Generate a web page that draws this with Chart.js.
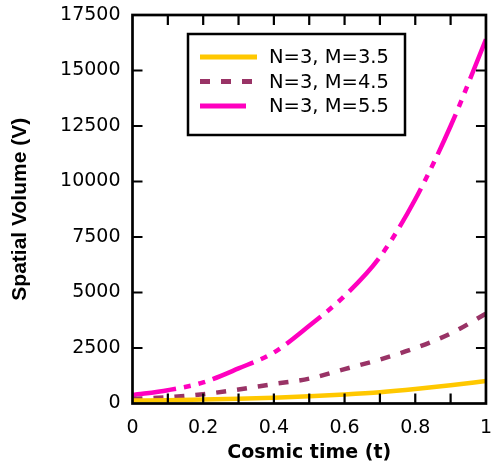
<!DOCTYPE html>
<html><head><meta charset="utf-8">
<script src="https://cdn.jsdelivr.net/npm/chart.js@4"></script>
<style>html,body{margin:0;padding:0;background:#fff}canvas{display:block}</style>
</head><body>
<canvas id="c" width="492" height="467"></canvas>
<script>
// ---- data ----
const times      = [0, 0.1, 0.2, 0.3, 0.4, 0.5, 0.6, 0.7, 0.8, 0.9, 1];
const volumeM35  = [130, 150, 180, 210, 260, 330, 410, 510, 650, 820, 1010];
const volumeM45  = [200, 280, 420, 630, 880, 1120, 1550, 1980, 2500, 3150, 4050];
const volumeM55  = [380, 600, 950, 1580, 2300, 3500, 4850, 6600, 9200, 12500, 16400];
const seriesLabels = ['N=3, M=3.5', 'N=3, M=4.5', 'N=3, M=5.5'];
const xTickMarks = [0.1, 0.2, 0.3, 0.4, 0.5, 0.6, 0.7, 0.8, 0.9];
const yTickMarks = [2500, 5000, 7500, 10000, 12500, 15000];
const xTitle = 'Cosmic time (t)';
const yTitle = 'Spatial Volume (V)';

const colors = ['#FFC800', '#993366', '#FF00BF'];
const dashes = [[], [10, 11], [44, 8, 7, 8, 7, 8]];
const legendDashes = [[], [10, 11], []];
const legendLens = [57, 52, 46];

function pts(vals) { return times.map((t, i) => ({x: t, y: vals[i]})); }
const seriesValues = [volumeM35, volumeM45, volumeM55];

const datasets = seriesValues.map((v, i) => ({
  label: seriesLabels[i],
  data: pts(v),
  borderColor: colors[i],
  backgroundColor: colors[i],
  borderWidth: 4.5,
  borderDash: dashes[i],
  pointRadius: 0,
  cubicInterpolationMode: 'monotone',
  fill: false
}));

const framePlugin = {
  id: 'frame',
  afterDatasetsDraw(chart) {
    const {ctx, chartArea: {left, right, top, bottom}, scales: {x, y}} = chart;
    ctx.save();
    ctx.strokeStyle = '#000';
    ctx.lineWidth = 2.2;
    ctx.beginPath();
    xTickMarks.forEach(v => {
      const px = x.getPixelForValue(v);
      ctx.moveTo(px, bottom); ctx.lineTo(px, bottom - 10);
      ctx.moveTo(px, top); ctx.lineTo(px, top + 10);
    });
    yTickMarks.forEach(v => {
      const py = y.getPixelForValue(v);
      ctx.moveTo(left, py); ctx.lineTo(left + 10, py);
      ctx.moveTo(right, py); ctx.lineTo(right - 10, py);
    });
    ctx.stroke();
    ctx.lineWidth = 2.7;
    ctx.strokeRect(left, top, right - left, bottom - top);

    // legend box
    const bx = 188, by = 34, bw = 217, bh = 101;
    ctx.fillStyle = '#fff';
    ctx.fillRect(bx, by, bw, bh);
    ctx.lineWidth = 2.5;
    ctx.strokeRect(bx, by, bw, bh);
    const rows = [57, 81.5, 106];
    ctx.font = '19.5px "DejaVu Sans"';
    ctx.textBaseline = 'middle';
    ctx.textAlign = 'left';
    chart.data.datasets.forEach((ds, i) => {
      ctx.strokeStyle = ds.borderColor;
      ctx.lineWidth = 5;
      ctx.setLineDash(legendDashes[i]);
      ctx.beginPath();
      ctx.moveTo(200, rows[i]); ctx.lineTo(200 + legendLens[i], rows[i]);
      ctx.stroke();
      ctx.setLineDash([]);
      ctx.fillStyle = '#000';
      ctx.fillText(ds.label, 269, rows[i] + 1);
    });
    ctx.restore();
  }
};

new Chart(document.getElementById('c'), {
  type: 'line',
  data: {datasets},
  options: {
    responsive: false,
    animation: false,
    layout: {padding: {left: 8, right: 6, top: 15, bottom: 0}},
    plugins: {legend: {display: false}, tooltip: {enabled: false}},
    scales: {
      x: {
        type: 'linear', min: 0, max: 1,
        grid: {display: true, drawOnChartArea: false, drawTicks: true, tickLength: 13, tickColor: 'rgba(0,0,0,0)'},
        border: {display: false},
        ticks: {stepSize: 0.2, padding: 0, color: '#000', font: {family: '"DejaVu Sans"', size: 19}, maxRotation: 0,
                callback: v => String(Math.round(v * 10) / 10)},
        title: {display: true, text: xTitle, color: '#000', padding: {top: 0, bottom: 3}, font: {family: '"DejaVu Sans"', size: 19, weight: 'bold'}},
        afterFit(s) { s.height = 63.5; }
      },
      y: {
        type: 'linear', min: 0, max: 17500,
        grid: {display: true, drawOnChartArea: false, drawTicks: true, tickLength: 12, tickColor: 'rgba(0,0,0,0)'},
        border: {display: false},
        ticks: {stepSize: 2500, padding: 0, color: '#000', font: {family: '"DejaVu Sans"', size: 19}, callback: v => String(v)},
        title: {display: true, text: yTitle, color: '#000', padding: {top: 0, bottom: 0}, font: {family: '"Liberation Sans"', size: 21, weight: 'bold'}},
        afterFit(s) { s.width = 124.5; }
      }
    }
  },
  plugins: [framePlugin]
});
</script>
</body></html>
